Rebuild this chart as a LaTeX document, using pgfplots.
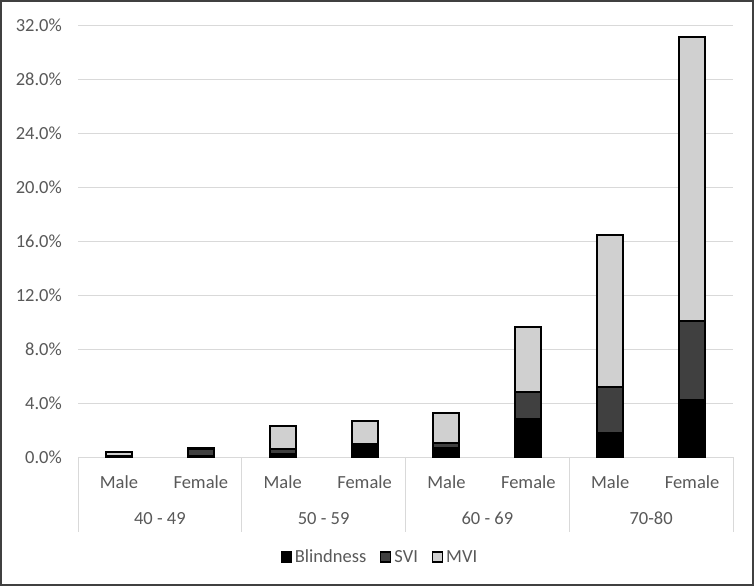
\documentclass[border=0pt]{standalone}
\usepackage{fontspec}
\setmainfont{Carlito}
\usepackage{pgfplots}
\pgfplotsset{compat=1.18}
\definecolor{txt}{HTML}{595959}
\definecolor{gridc}{HTML}{D9D9D9}
\definecolor{svi}{HTML}{404040}
\definecolor{mvi}{HTML}{D0D0D0}
\tikzset{grp/.style={anchor=base, inner sep=0pt, text=txt, font=\fontsize{18.5}{20}\selectfont}}

\begin{document}
\begin{tikzpicture}
\draw[draw=black!75, line width=2pt, fill=white] (1pt,1pt) rectangle (753pt,585pt);
\begin{axis}[
    at={(78pt,129pt)}, anchor=south west,
    width=655pt, height=432pt, scale only axis,
    ybar stacked, bar width=26pt,
    xmin=-0.5, xmax=7.5, ymin=0, ymax=32,
    clip=false,
    axis line style={draw=none},
    tick style={draw=none},
    ymajorgrids, grid style={gridc, line width=0.9pt},
    ytick={0,4,...,32},
    /pgf/number format/assume math mode=true,
    yticklabel={\pgfmathprintnumber[fixed,fixed zerofill,precision=1]{\tick}\%},
    yticklabel style={anchor=east, xshift=-16pt, inner sep=0pt, text=txt, font=\fontsize{18.5}{20}\selectfont},
    xtick={0,...,7},
    xticklabels={Male,Female,Male,Female,Male,Female,Male,Female},
    xticklabel style={anchor=base, yshift=-31pt, inner sep=0pt, text=txt, font=\fontsize{18.5}{20}\selectfont},
    legend columns=3,
    legend style={at={(0.461,-0.2315)}, anchor=center, draw=none, fill=none,
        font=\fontsize{18.5}{20}\selectfont, text=txt,
        /tikz/every odd column/.append style={column sep=1pt},
        /tikz/every even column/.append style={column sep=12pt}},
    sq/.style={legend image code/.code={\draw[##1, line width=1.2pt] (0pt,-5pt) rectangle (10pt,5pt);}},
]
\addplot+[sq, fill=black, draw=black, line width=2pt] coordinates {
    (0,0.05) (1,0.1) (2,0.2) (3,0.9) (4,0.65) (5,2.8) (6,1.75) (7,4.2)
};
\addplot+[sq, fill=svi, draw=black, line width=2pt] coordinates {
    (0,0.05) (1,0.5) (2,0.37) (3,0.1) (4,0.4) (5,2.0) (6,3.4) (7,5.85)
};
\addplot+[sq, fill=mvi, draw=black, line width=2pt] coordinates {
    (0,0.25) (1,0.1) (2,1.73) (3,1.67) (4,2.2) (5,4.8) (6,11.3) (7,21.05)
};
\legend{Blindness, SVI, MVI}
\pgfplotsinvokeforeach{-0.5,1.5,3.5,5.5,7.5}{
    \draw[gridc, line width=0.9pt] (axis cs:#1,0) -- ++(0pt,-75pt);
}
\node[grp] at ([yshift=-67pt]axis cs:0.5,0) {40 - 49};
\node[grp] at ([yshift=-67pt]axis cs:2.5,0) {50 - 59};
\node[grp] at ([yshift=-67pt]axis cs:4.5,0) {60 - 69};
\node[grp] at ([yshift=-67pt]axis cs:6.5,0) {70-80};
\end{axis}
\end{tikzpicture}
\end{document}
